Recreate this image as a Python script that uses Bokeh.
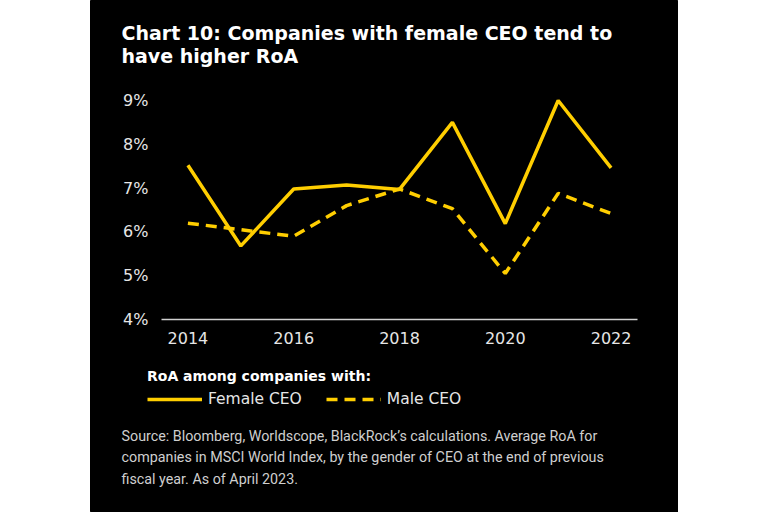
from bokeh.plotting import figure
from bokeh.models import (Range1d, FixedTicker, Label, Legend, LegendItem, Spacer)
from bokeh.layouts import row
from bokeh.embed import file_html
from bokeh.resources import INLINE

# ---- data ----
years = [2014, 2015, 2016, 2017, 2018, 2019, 2020, 2021, 2022]
female_ceo = [7.52, 5.68, 6.98, 7.07, 6.97, 8.50, 6.19, 9.00, 7.46]
male_ceo = [6.20, 6.05, 5.90, 6.60, 6.98, 6.53, 5.05, 6.88, 6.42]
x_ticks = [2014, 2016, 2018, 2020, 2022]
y_ticks = [4, 5, 6, 7, 8, 9]
y_tick_labels = ["4%", "5%", "6%", "7%", "8%", "9%"]

title_lines = ["Chart 10: Companies with female CEO tend to", "have higher RoA"]
legend_title = "RoA among companies with:"
series_names = ["Female CEO", "Male CEO"]
source_lines = [
    "Source: Bloomberg, Worldscope, BlackRock\u2019s calculations. Average RoA for",
    "companies in MSCI World Index, by the gender of CEO at the end of previous",
    "fiscal year. As of April 2023.",
]

YELLOW = "#ffce00"
FONT = "DejaVu Sans"

# the frame covers the whole black panel; axes are pinned inside it
p = figure(width=588, height=512, output_backend="svg", toolbar_location=None,
           x_range=Range1d(2012.158, 2023.275), y_range=Range1d(-0.406, 11.283),
           min_border=0, outline_line_color="black",
           background_fill_color="black", border_fill_color="black")
p.grid.visible = False

r_f = p.line(years, female_ceo, line_color=YELLOW, line_width=3.5)
r_m = p.line(years, male_ceo, line_color=YELLOW, line_width=3.5, line_dash="11 7")

# axes
p.xaxis.fixed_location = y_ticks[0]
p.xaxis.bounds = (2013.5, 2022.5)
p.xaxis.ticker = FixedTicker(ticks=x_ticks)
p.xaxis.axis_line_color = "#d0d0d0"
p.xaxis.axis_line_width = 1.5
p.xaxis.major_tick_line_color = None
p.xaxis.minor_tick_line_color = None
p.xaxis.major_tick_out = 0
p.xaxis.major_label_standoff = 12
p.xaxis.major_label_text_color = "#e6e6e6"
p.xaxis.major_label_text_font = FONT
p.xaxis.major_label_text_font_size = "16px"

p.yaxis.fixed_location = 2013.5
p.yaxis.bounds = (y_ticks[0], y_ticks[-1])
p.yaxis.ticker = FixedTicker(ticks=y_ticks)
p.yaxis.major_label_overrides = {t: l for t, l in zip(y_ticks, y_tick_labels)}
p.yaxis.axis_line_color = None
p.yaxis.major_tick_line_color = None
p.yaxis.minor_tick_line_color = None
p.yaxis.major_tick_out = 0
p.yaxis.major_label_standoff = 13
p.yaxis.major_label_text_color = "#e6e6e6"
p.yaxis.major_label_text_font = FONT
p.yaxis.major_label_text_font_size = "16px"

# title
for txt, sy in zip(title_lines, [480, 457]):
    p.add_layout(Label(x=31, y=sy, x_units="screen", y_units="screen", text=txt,
                       text_font=FONT, text_font_size="19px",
                       text_font_style="bold", text_color="white",
                       text_baseline="alphabetic"))

# legend
legend = Legend(items=[LegendItem(label=series_names[0], renderers=[r_f]),
                       LegendItem(label=series_names[1], renderers=[r_m])],
                location=(57, 104), orientation="horizontal",
                title=legend_title, title_text_font=FONT,
                title_text_font_size="14px", title_text_font_style="bold",
                title_text_color="white", title_standoff=6,
                label_text_font=FONT, label_text_font_size="15.5px",
                label_text_color="#e6e6e6", glyph_width=55, glyph_height=16,
                label_height=16, label_standoff=6, spacing=24, padding=0,
                margin=0, background_fill_alpha=0, border_line_color=None)
p.add_layout(legend, "center")

# source
for txt, sy in zip(source_lines, [77, 55.5, 34]):
    p.add_layout(Label(x=31, y=sy, x_units="screen", y_units="screen", text=txt,
                       text_font="Roboto", text_font_size="14.3px",
                       text_color="#cfcfcf", text_baseline="alphabetic"))

layout = row(Spacer(width=90, height=512), p)
open("out.html", "w").write(file_html(layout, INLINE))
